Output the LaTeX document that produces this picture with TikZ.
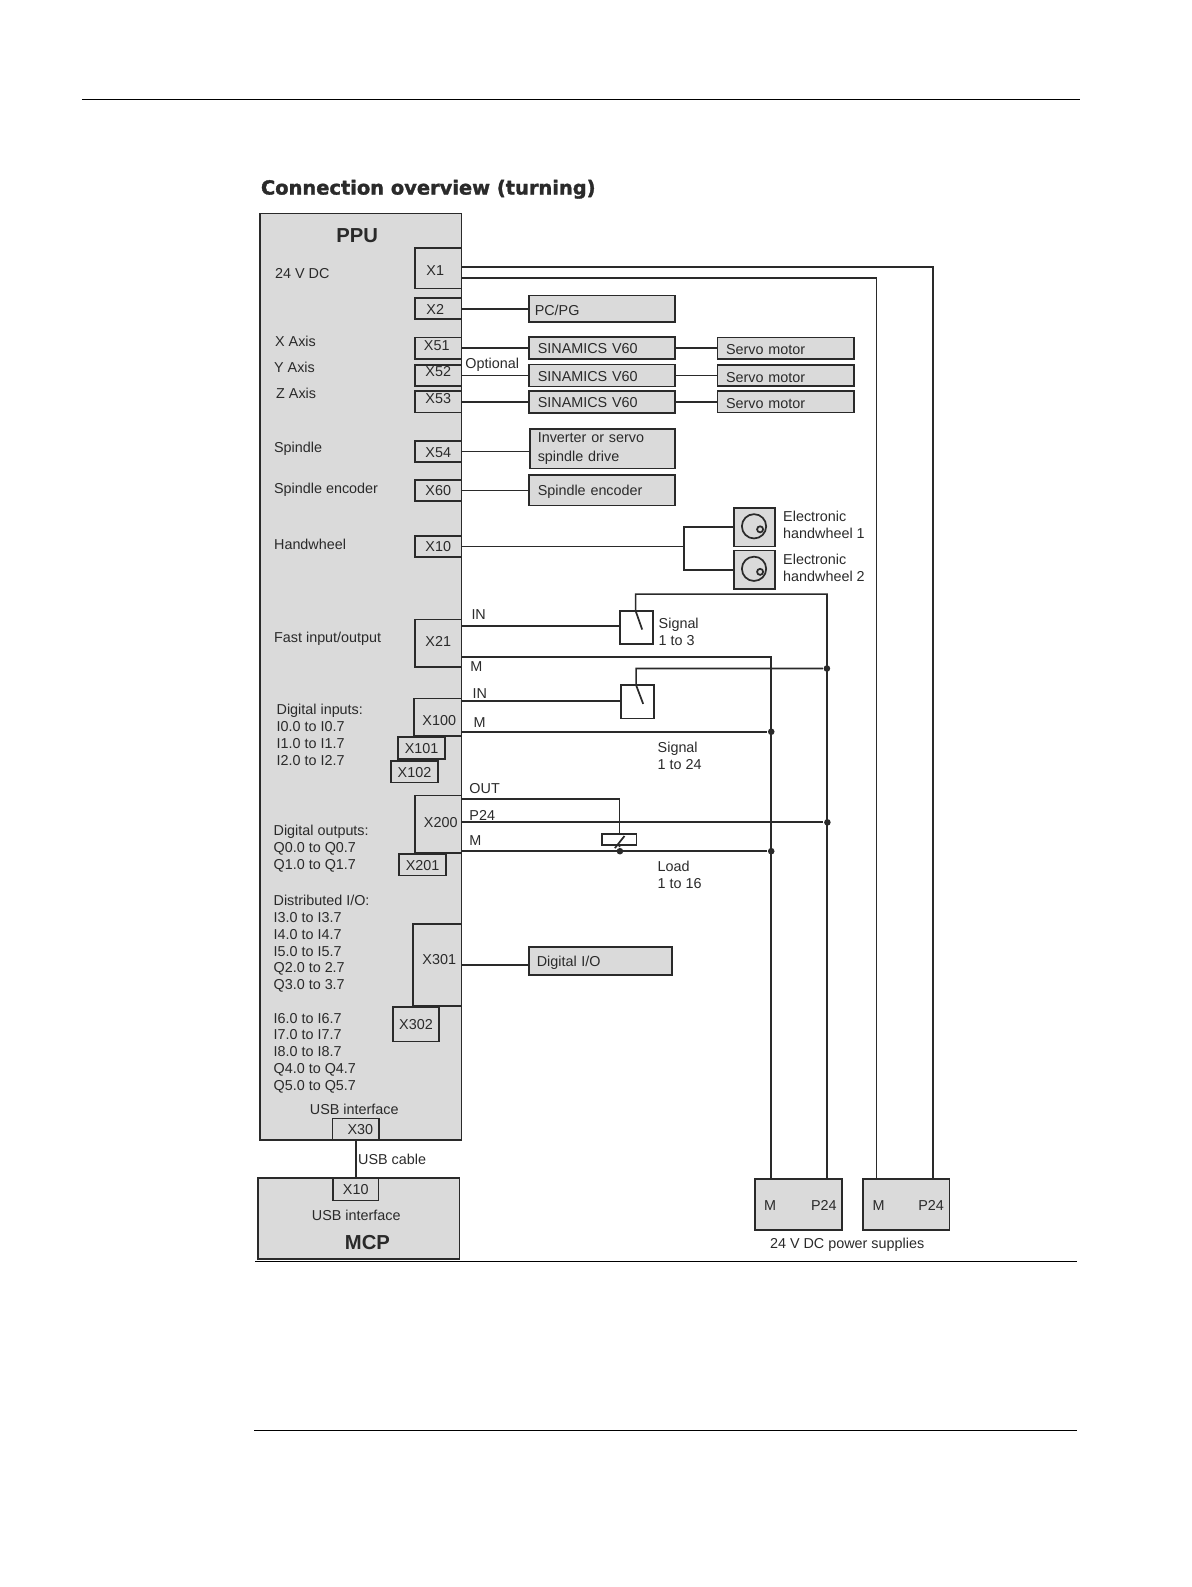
\documentclass[tikz,border=0pt]{standalone}
\usepackage{fontspec}
\setmainfont{Liberation Sans}
\newfontfamily\titlefont[BoldFeatures={FakeBold=1.6}]{DejaVu Sans}
\definecolor{wirecol}{HTML}{2A2A2A}
\definecolor{boxgray}{HTML}{DADADA}
% text in a box, moved down from the box centre by #1
\newcommand{\nudge}[2]{\raisebox{\dimexpr-#1-5pt\relax}[0pt][0pt]{#2}}
\begin{document}
\begin{tikzpicture}[x=1pt,y=-1pt,line width=1.7pt,
  every node/.style={font=\fontsize{14.2}{16.6}\selectfont,text=wirecol},
  wire/.style={draw=wirecol,line width=1.7pt},
  unit/.style={draw=wirecol,fill=boxgray,line width=1.7pt,inner sep=0pt,align=center},
  port/.style={unit,minimum width=46pt,minimum height=21pt},
  leftbox/.style={unit,anchor=west,align=left},
  tag/.style={anchor=west,inner sep=0pt,align=left},
  dot/.style={circle,fill=wirecol,inner sep=0pt,minimum size=6.5pt},
  ring/.style={circle,draw=wirecol,inner sep=0pt,line width=1.7pt},
  relay/.style={draw=wirecol,fill=white,line width=1.7pt,inner sep=0pt,minimum width=33pt,minimum height=33pt}]
\useasboundingbox (0,0) rectangle (1177,1568);

% page rules
\coordinate (rule1a) at (81,98);
\coordinate (rule1b) at (1067,98);
\coordinate (rule2a) at (252,1246);
\coordinate (rule2b) at (1064,1246);
\coordinate (rule3a) at (251,1413);
\coordinate (rule3b) at (1064,1413);
\draw[line width=0.9pt] (rule1a) -- (rule1b);
\draw[line width=0.9pt] (rule2a) -- (rule2b);
\draw[line width=0.9pt] (rule3a) -- (rule3b);

\node[tag,font=\titlefont\bfseries\fontsize{19.2}{22}\selectfont] at (257,187) (title) {Connection overview (turning)};

% PPU with its ports
\node[unit,minimum width=199pt,minimum height=915pt] at (356.5,668.5) (ppu) {};
\node[font=\bfseries\fontsize{20}{24}\selectfont] at (353,233) (ppuname) {PPU};
\node[port,minimum height=40pt] at (433,265) (x1) {\nudge{2pt}{X1}\hspace*{6pt}};
\node[port] at (433,305) (x2) {\nudge{1pt}{X2}\hspace*{6pt}};
\node[port] at (433,344) (x51) {\nudge{-3pt}{X51}\hspace*{3pt}};
\node[port] at (433,371) (x52) {\nudge{-4pt}{X52}};
\node[port] at (433,397) (x53) {\nudge{-3pt}{X53}};
\node[port] at (433,446) (x54) {\nudge{1pt}{X54}};
\node[port] at (433,484.5) (x60) {\nudge{0pt}{X60}};
\node[port] at (433,540) (x10) {\nudge{0pt}{X10}};
\node[port,minimum height=47pt] at (433,635.5) (x21) {\nudge{-1.5pt}{X21}};
\node[port,minimum width=47pt,minimum height=37pt] at (432.5,708.5) (x100) {\hspace*{3pt}\nudge{3.5pt}{X100}};
\node[port,minimum width=47pt,minimum height=22pt] at (416.5,739) (x101) {\nudge{0pt}{X101}};
\node[port,minimum width=47pt] at (409.5,762.5) (x102) {\nudge{0.5pt}{X102}};
\node[port,minimum height=57pt] at (433,814.5) (x200) {\hspace*{5pt}\nudge{-1.5pt}{X200}};
\node[port,minimum width=47pt] at (417.5,854.5) (x201) {\nudge{0.5pt}{X201}};
\node[port,minimum width=48pt,minimum height=81pt] at (432,953.5) (x301) {\hspace*{4pt}\nudge{-5.5pt}{X301}};
\node[port,minimum height=34pt] at (411,1012) (x302) {\nudge{0pt}{X302}};
\node[port] at (351.5,1115.5) (x30) {\hspace*{9pt}\nudge{0.5pt}{X30}};

\node[tag] at (271,270) (lv24) {24 V DC};
\node[tag] at (271,337) (lx) {X Axis};
\node[tag] at (270,363) (ly) {Y Axis};
\node[tag] at (272,389) (lz) {Z Axis};
\node[tag] at (270,443) (lsp) {Spindle};
\node[tag] at (270,484) (lenc) {Spindle encoder};
\node[tag] at (270,538) (lhw) {Handwheel};
\node[tag] at (270,631) (lfast) {Fast input/output};
\node[tag] at (272.5,726) (ldi) {Digital inputs:\\I0.0 to I0.7\\I1.0 to I1.7\\I2.0 to I2.7};
\node[tag] at (269.5,838.5) (ldo) {Digital outputs:\\Q0.0 to Q0.7\\Q1.0 to Q1.7};
\node[tag] at (269.5,932.5) (ldist) {Distributed I/O:\\I3.0 to I3.7\\I4.0 to I4.7\\I5.0 to I5.7\\Q2.0 to 2.7\\Q3.0 to 3.7};
\node[tag] at (269.5,1040.5) (lmore) {I6.0 to I6.7\\I7.0 to I7.7\\I8.0 to I8.7\\Q4.0 to Q4.7\\Q5.0 to Q5.7};
\node at (350,1096) (lusb) {USB interface};

% MCP
\node[unit,minimum width=199pt,minimum height=80pt] at (354.5,1204) (mcp) {};
\node[port,minimum width=45pt,minimum height=22pt] at (351.5,1175) (x10m) {\nudge{0pt}{X10}};
\node at (352,1201) (lusbm) {USB interface};
\node[font=\bfseries\fontsize{20}{24}\selectfont] at (363,1228) (mcpname) {MCP};
\draw[wire] (x30.south) -- (x10m.north);
\node[tag] at (353,1145) (lcable) {USB cable};

% units to the right
\node[leftbox,inner xsep=5.5pt,text width=133pt,minimum height=26pt] at (522,305) (pcpg) {\nudge{1.5pt}{PC/PG}};
\node[leftbox,inner xsep=8.5pt,text width=127pt,minimum height=22pt] at (522,344) (sin1) {\nudge{0pt}{SINAMICS V60}};
\node[leftbox,inner xsep=8.5pt,text width=127pt,minimum height=22pt] at (522,371) (sin2) {\nudge{0.5pt}{SINAMICS V60}};
\node[leftbox,inner xsep=8.5pt,text width=127pt,minimum height=22pt] at (522,397) (sin3) {\nudge{1pt}{SINAMICS V60}};
\node[leftbox,inner xsep=8.5pt,text width=118pt,minimum height=21pt] at (708,344) (servo1) {\nudge{1pt}{Servo motor}};
\node[leftbox,inner xsep=8.5pt,text width=118pt,minimum height=21pt] at (708,371) (servo2) {\nudge{1.5pt}{Servo motor}};
\node[leftbox,inner xsep=8.5pt,text width=118pt,minimum height=21pt] at (708,397) (servo3) {\nudge{2pt}{Servo motor}};
\node[leftbox,inner xsep=7.5pt,text width=128pt,minimum height=39pt] at (523,443.5) (inv) {\vspace*{2pt}Inverter or servo\\spindle drive};
\node[leftbox,inner xsep=8.5pt,text width=127pt,minimum height=30pt] at (522,484.5) (enc) {\nudge{0pt}{Spindle encoder}};
\node[leftbox,inner xsep=7.5pt,text width=126pt,minimum height=27pt] at (522,949.5) (dio) {\nudge{0.5pt}{Digital I/O}};

\draw[wire] (x2.east) -- (pcpg.west);
\draw[wire] (x51.east) -- (sin1.west);
\draw[wire] (x52.east) -- (sin2.west);
\draw[wire] (x53.east) -- (sin3.west);
\draw[wire] (sin1.east) -- (servo1.west);
\draw[wire] (sin2.east) -- (servo2.west);
\draw[wire] (sin3.east) -- (servo3.west);
\draw[wire] (x54.east) -- (x54.east -| inv.west);
\draw[wire] (x60.east) -- (enc.west);
\draw[wire] (x301.east) -- (x301.east -| dio.west);
\node[tag] at (459,360) (lopt) {Optional};

% handwheels
\node[unit,minimum width=41pt,minimum height=38pt] at (745.5,521) (hw1) {};
\node[unit,minimum width=41pt,minimum height=38pt] at (745.5,563) (hw2) {};
\node[ring,minimum size=24pt] at (745,520) (knob1) {};
\node[ring,minimum size=24pt] at (745,562) (knob2) {};
\node[ring,minimum size=6pt,fill=boxgray] at (751,523) (grip1) {};
\node[ring,minimum size=6pt,fill=boxgray] at (751,565) (grip2) {};
\node[tag] at (773,518.5) (lhw1) {Electronic\\handwheel 1};
\node[tag] at (773,561) (lhw2) {Electronic\\handwheel 2};
\coordinate (hwfork) at (676,540);
\draw[wire] (x10.east) -- (hwfork);
\draw[wire] (hwfork) |- (hw1.west);
\draw[wire] (hwfork) |- (hw2.west);

% power supplies
\node[unit,minimum width=86pt,minimum height=50pt] at (789,1190) (ps1) {};
\node[unit,minimum width=85pt,minimum height=50pt] at (895.5,1190) (ps2) {};
\node at (761,1191) (ps1m) {M};
\node at (814,1191) (ps1p) {P24};
\node at (868,1191) (ps2m) {M};
\node at (920,1191) (ps2p) {P24};
\node at (837,1230) (lps) {24 V DC power supplies};
\coordinate (ps1mtop) at (762,1165);
\coordinate (ps1ptop) at (817,1165);
\coordinate (ps2mtop) at (866,1165);
\coordinate (ps2ptop) at (922,1165);

% X1 supply lines
\coordinate (x1a) at (456,264);
\coordinate (x1b) at (456,275);
\draw[wire] (x1a) -| (ps2ptop);
\draw[wire] (x1b) -| (ps2mtop);

% signals
\node[relay] at (629,620) (rel1) {};
\node[relay] at (630,693.5) (rel2) {};
\coordinate (x21in) at (456,618.5);
\coordinate (x21m) at (456,649);
\coordinate (x100in) at (456,692.5);
\coordinate (x100m) at (456,723);
\coordinate (x200out) at (456,789.5);
\coordinate (x200p) at (456,812.5);
\coordinate (x200m) at (456,841);
\coordinate (sw1top) at (628,603.5);
\coordinate (sw1tip) at (634.5,622);
\coordinate (sw2top) at (628.5,677);
\coordinate (sw2tip) at (635.5,695.5);
\coordinate (feed1) at (628,587);
\coordinate (feed2) at (628.5,660.5);
\node[dot] at (817,660.5) (join1) {};
\node[dot] at (762,723) (join2) {};
\node[dot] at (817.5,812.5) (join3) {};
\node[dot] at (762,841) (join4) {};
\node[dot] at (612.5,841) (join5) {};

\draw[wire] (x21in) -- (x21in -| rel1.west);
\draw[wire] (x100in) -- (x100in -| rel2.west);
\draw[wire] (x21m) -| (ps1mtop);
\draw[wire] (x100m) -- (join2);
\draw[wire] (x200p) -- (join3);
\draw[wire] (x200m) -- (join4);
\draw[wire] (sw1tip) -- (sw1top) -- (feed1) -| (ps1ptop);
\draw[wire] (sw2tip) -- (sw2top) -- (feed2) -- (join1);

\node[relay,minimum width=34pt,minimum height=11pt] at (612,829.5) (coil) {};
\coordinate (coilslasha) at (607.5,838);
\coordinate (coilslashb) at (617,826);
\draw[wire] (x200out) -| (coil.north);
\draw[wire] (coil.south) -- (join5);
\draw[wire] (coilslasha) -- (coilslashb);

\node[tag] at (465,607) (lin1) {IN};
\node[tag] at (464,659) (lm1) {M};
\node[tag] at (466,685) (lin2) {IN};
\node[tag] at (467,714) (lm2) {M};
\node[tag] at (463,779) (lout) {OUT};
\node[tag] at (463,806) (lp24) {P24};
\node[tag] at (463,830) (lm3) {M};
\node[tag] at (650,624) (lsig1) {Signal\\1 to 3};
\node[tag] at (649,746.5) (lsig2) {Signal\\1 to 24};
\node[tag] at (649,864) (lload) {Load\\1 to 16};
\end{tikzpicture}
\end{document}
